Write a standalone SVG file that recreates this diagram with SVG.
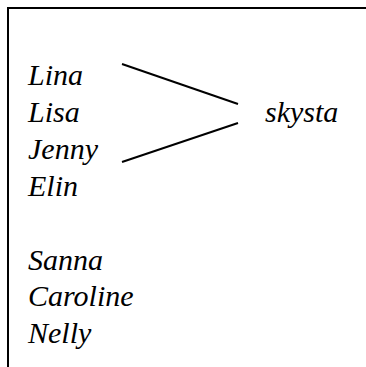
<svg xmlns="http://www.w3.org/2000/svg" width="366" height="367" viewBox="0 0 366 367">
<style>
.t{font-family:'Liberation Serif','Times New Roman',Times,serif;font-style:italic;font-size:30px;fill:#000}
.b{stroke:#000;stroke-width:2;fill:none}
</style>
<rect width="366" height="367" fill="#fff"/>
<path class="b" d="M8,367 V8 H366"/>
<g id="connectors">
<line class="b" x1="122" y1="64" x2="238" y2="104"/>
<line class="b" x1="238" y1="123" x2="122" y2="162"/>
</g>
<g id="lina"><text class="t" x="28" y="85">Lina</text></g>
<g id="lisa"><text class="t" x="28" y="122">Lisa</text></g>
<g id="jenny"><text class="t" x="28" y="159">Jenny</text></g>
<g id="elin"><text class="t" x="28" y="196">Elin</text></g>
<g id="skysta"><text class="t" x="265" y="122">skysta</text></g>
<g id="sanna"><text class="t" x="28" y="270">Sanna</text></g>
<g id="caroline"><text class="t" x="28" y="306">Caroline</text></g>
<g id="nelly"><text class="t" x="28" y="343">Nelly</text></g>
</svg>
